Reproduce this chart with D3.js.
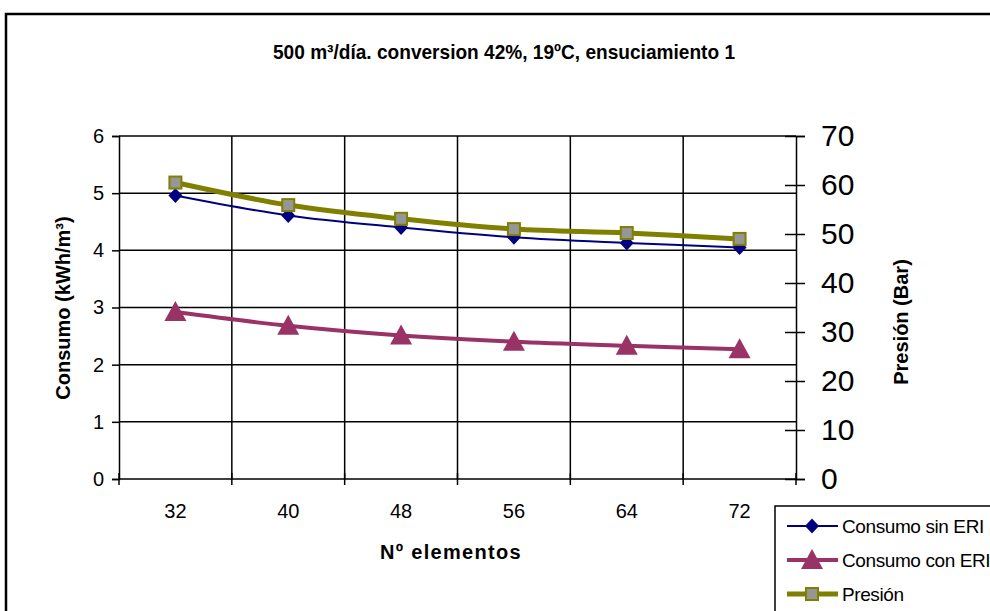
<!DOCTYPE html>
<html>
<head>
<meta charset="utf-8">
<script src="https://cdn.jsdelivr.net/npm/d3@7"></script>
<style>
  html, body { margin: 0; padding: 0; background: #fff; }
  svg { display: block; font-family: "Liberation Sans", Arial, sans-serif; }
</style>
</head>
<body>
<svg id="chart" width="990" height="611"></svg>
<script>
// Number of elements per configuration
const categories = ["32", "40", "48", "56", "64", "72"];
// Specific consumption without energy recovery (kWh/m³)
const consumoSinERI = [4.96, 4.61, 4.40, 4.23, 4.13, 4.05];
// Specific consumption with energy recovery (kWh/m³)
const consumoConERI = [2.92, 2.68, 2.51, 2.40, 2.33, 2.27];
// Operating pressure (bar)
const presion = [60.5, 55.9, 53.1, 51.0, 50.2, 49.0];

const leftTicks = [0, 1, 2, 3, 4, 5, 6];
const rightTicks = [0, 10, 20, 30, 40, 50, 60, 70];

const titleText = "500 m³/día. conversion 42%, 19ºC, ensuciamiento 1";
const leftTitle = "Consumo (kWh/m³)";
const rightTitle = "Presión (Bar)";
const xTitle = "Nº elementos";
const seriesNames = ["Consumo sin ERI", "Consumo con ERI", "Presión"];

const svg = d3.select("#chart");

const plot = { left: 119, right: 796, top: 136, bottom: 479 };

// Outer chart frame
svg.append("rect")
  .attr("x", 6).attr("y", 14)
  .attr("width", 1000).attr("height", 620)
  .attr("fill", "#fff").attr("stroke", "#000").attr("stroke-width", 2.5);

// Title (condensed bold)
svg.append("text")
  .attr("x", 504).attr("y", 59)
  .attr("text-anchor", "middle")
  .attr("font-weight", "bold")
  .attr("font-size", 20.5)
  .attr("textLength", 462)
  .attr("lengthAdjust", "spacingAndGlyphs")
  .text(titleText);

const x = d3.scaleBand().domain(categories).range([plot.left, plot.right]);
const yL = d3.scaleLinear().domain([0, 6]).range([plot.bottom, plot.top]);
const yR = d3.scaleLinear().domain([0, 70]).range([plot.bottom, plot.top]);

const grid = svg.append("g").attr("stroke", "#000").attr("stroke-width", 1.5);

// Horizontal gridlines at each left-axis tick
grid.selectAll("line.h")
  .data(leftTicks.filter(d => d > 0))
  .join("line")
  .attr("x1", plot.left).attr("x2", plot.right)
  .attr("y1", d => yL(d)).attr("y2", d => yL(d));

// Vertical gridlines at category boundaries
const boundaries = categories.slice(1).map(c => x(c));
grid.selectAll("line.v")
  .data(boundaries)
  .join("line")
  .attr("x1", d => d).attr("x2", d => d)
  .attr("y1", plot.top).attr("y2", plot.bottom);

// Left axis
const leftAxis = svg.append("g")
  .attr("transform", `translate(${plot.left},0)`)
  .call(d3.axisLeft(yL).tickValues(leftTicks).tickSize(7).tickPadding(8).tickFormat(d3.format("d")));
leftAxis.select(".domain").attr("stroke-width", 1.5);
leftAxis.selectAll(".tick line").attr("stroke-width", 1.5);
leftAxis.selectAll("text").attr("font-size", 20).attr("fill", "#000")
  .attr("font-family", "'Liberation Sans', Arial, sans-serif");

// Bottom axis: ticks at category boundaries, labels centred in each band
const bottom = svg.append("g").attr("transform", `translate(0,${plot.bottom})`);
bottom.append("line")
  .attr("x1", plot.left).attr("x2", plot.right)
  .attr("stroke", "#000").attr("stroke-width", 1.5);
bottom.selectAll("line.tk")
  .data(categories.map(c => x(c)).concat([plot.right]))
  .join("line")
  .attr("x1", d => d).attr("x2", d => d)
  .attr("y1", -6).attr("y2", 6)
  .attr("stroke", "#000").attr("stroke-width", 1.5);
bottom.selectAll("text")
  .data(categories)
  .join("text")
  .attr("x", d => x(d) + x.bandwidth() / 2)
  .attr("y", 39)
  .attr("text-anchor", "middle")
  .attr("font-size", 20)
  .text(d => d);

// Right axis
const rightAxis = svg.append("g")
  .attr("transform", `translate(${plot.right},0)`)
  .call(d3.axisRight(yR).tickValues(rightTicks).tickSize(9).tickPadding(16));
rightAxis.select(".domain").attr("stroke-width", 1.5);
rightAxis.selectAll(".tick line").attr("x1", -11).attr("stroke-width", 1.5);
rightAxis.selectAll("text").attr("font-size", 30).attr("fill", "#000")
  .attr("font-family", "'Liberation Sans', Arial, sans-serif");

// Axis titles
svg.append("text")
  .attr("transform", "translate(70,308) rotate(-90)")
  .attr("text-anchor", "middle")
  .attr("font-weight", "bold").attr("font-size", 20)
  .text(leftTitle);
svg.append("text")
  .attr("transform", "translate(908,322) rotate(-90)")
  .attr("text-anchor", "middle")
  .attr("font-weight", "bold").attr("font-size", 20)
  .text(rightTitle);
svg.append("text")
  .attr("x", 451).attr("y", 559)
  .attr("text-anchor", "middle")
  .attr("font-weight", "bold").attr("font-size", 20)
  .attr("letter-spacing", 1.3)
  .text(xTitle);

// Series
const cx = d => x(d) + x.bandwidth() / 2;
const curve = d3.curveCatmullRom.alpha(0.5);

const series = [
  { name: seriesNames[0], values: consumoSinERI, y: yL, color: "#000080", width: 2, marker: "diamond" },
  { name: seriesNames[1], values: consumoConERI, y: yL, color: "#993366", width: 4, marker: "triangle" },
  { name: seriesNames[2], values: presion, y: yR, color: "#808000", width: 5, marker: "square" }
];

function drawMarker(g, type, color, px, py) {
  if (type === "diamond") {
    g.append("path")
      .attr("d", "M0,-7.5 L7,0 L0,7.5 L-7,0 Z")
      .attr("transform", `translate(${px},${py})`)
      .attr("fill", color);
  } else if (type === "triangle") {
    g.append("path")
      .attr("d", "M0,-11 L11,9 L-11,9 Z")
      .attr("transform", `translate(${px},${py})`)
      .attr("fill", color);
  } else {
    g.append("rect")
      .attr("x", px - 6).attr("y", py - 6)
      .attr("width", 12).attr("height", 12)
      .attr("fill", "#969696").attr("stroke", color).attr("stroke-width", 2);
  }
}

series.forEach(s => {
  const g = svg.append("g");
  const line = d3.line()
    .x((d, i) => cx(categories[i]))
    .y(d => s.y(d))
    .curve(curve);
  g.append("path")
    .datum(s.values)
    .attr("d", line)
    .attr("fill", "none")
    .attr("stroke", s.color)
    .attr("stroke-width", s.width)
    .attr("stroke-linejoin", "round");
  s.values.forEach((v, i) => drawMarker(g, s.marker, s.color, cx(categories[i]), s.y(v)));
});

// Legend
const legend = svg.append("g");
legend.append("rect")
  .attr("x", 775).attr("y", 506)
  .attr("width", 300).attr("height", 200)
  .attr("fill", "#fff").attr("stroke", "#000").attr("stroke-width", 1.5);
series.forEach((s, i) => {
  const ly = 526 + i * 34;
  legend.append("line")
    .attr("x1", 787).attr("x2", 838)
    .attr("y1", ly).attr("y2", ly)
    .attr("stroke", s.color).attr("stroke-width", s.width);
  drawMarker(legend, s.marker, s.color, 812, ly);
  legend.append("text")
    .attr("x", 842).attr("y", ly + 7)
    .attr("font-size", 19)
    .attr("letter-spacing", -0.4)
    .text(s.name);
});
</script>
</body>
</html>
